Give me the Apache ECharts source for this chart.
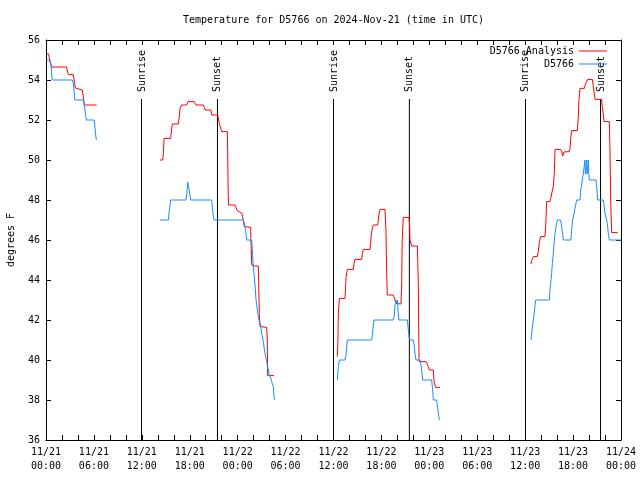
<!DOCTYPE html>
<html><head><meta charset="utf-8">
<script src="https://cdn.jsdelivr.net/npm/echarts@6/dist/echarts.min.js"></script>
<style>html,body{margin:0;padding:0;background:#fff}#c{width:640px;height:480px}</style>
</head><body><div id="c"></div>
<script>
// hours since 2024-11-21 00:00 UTC, temperature in degrees F
const xTickLabels = ['11/21\n00:00','11/21\n06:00','11/21\n12:00','11/21\n18:00','11/22\n00:00','11/22\n06:00','11/22\n12:00','11/22\n18:00','11/23\n00:00','11/23\n06:00','11/23\n12:00','11/23\n18:00','11/24\n00:00'];
const sunriseHours = [11.96, 36.0, 60.04];
const sunsetHours = [21.47, 45.5, 69.44];

const analysis1 = [[0.05,55.3],[0.33,55.3],[0.33,55.2],[0.45,55.2],[0.5,54.9],[0.71,54.65],[2.59,54.65],[2.7,54.4],[2.8,54.27],[3.42,54.27],[3.5,54.35],[3.62,54.2],[3.67,53.6],[3.76,53.5],[4.55,53.5],[4.62,53.3],[4.67,53.15],[4.8,52.75],[6.34,52.75]];
const analysis2 = [[14.27,50.0],[14.61,50.0],[14.7,50.33],[14.78,51.08],[15.61,51.08],[15.73,51.5],[15.82,51.8],[16.57,51.8],[16.7,52.17],[16.78,52.58],[16.99,52.75],[17.62,52.75],[17.78,52.92],[18.57,52.92],[18.78,52.75],[19.7,52.75],[19.82,52.63],[19.9,52.5],[20.66,52.5],[20.75,52.25],[21.5,52.25],[21.58,52.17],[21.7,51.83],[21.9,51.83],[22.0,51.42],[22.7,51.42],[22.75,50.47],[22.8,48.67],[22.85,47.75],[23.67,47.75],[23.79,47.63],[23.96,47.47],[24.17,47.37],[24.54,47.33],[24.62,47.17],[24.83,46.67],[24.92,46.63],[25.63,46.63],[25.65,46.08],[25.72,46.08],[25.76,44.75],[25.88,44.75],[26.09,44.7],[26.59,44.7],[26.63,43.92],[26.71,42.33],[26.8,41.67],[27.63,41.63],[27.71,41.0],[27.76,39.22],[28.55,39.22]];
const analysis3 = [[36.48,40.17],[36.55,40.92],[36.61,42.33],[36.73,43.08],[37.44,43.08],[37.5,43.5],[37.57,44.13],[37.73,44.53],[38.48,44.53],[38.57,44.83],[38.69,45.03],[39.53,45.03],[39.61,45.33],[39.74,45.53],[40.57,45.53],[40.65,45.83],[40.74,46.33],[40.86,46.58],[40.99,46.75],[41.53,46.75],[41.61,46.97],[41.7,47.33],[41.82,47.53],[42.45,47.53],[42.57,46.42],[42.66,44.33],[42.74,43.25],[43.49,43.25],[43.58,43.17],[43.7,43.0],[43.83,42.83],[44.04,42.8],[44.45,42.8],[44.54,43.83],[44.6,46.0],[44.74,47.13],[45.45,47.13],[45.53,46.75],[45.58,46.0],[45.79,45.7],[46.5,45.7],[46.62,43.83],[46.71,39.92],[47.58,39.92],[47.66,39.83],[47.87,39.67],[48.0,39.5],[48.5,39.5],[48.59,38.92],[48.79,38.63],[49.34,38.63]];
const analysis4 = [[60.73,44.8],[60.81,44.97],[61.02,45.17],[61.52,45.17],[61.65,45.42],[61.78,45.92],[61.94,46.17],[62.48,46.17],[62.57,46.67],[62.69,47.92],[63.11,47.92],[63.19,48.08],[63.4,48.08],[63.53,48.7],[63.65,49.33],[63.74,50.53],[64.45,50.53],[64.57,50.42],[64.7,50.2],[64.86,50.4],[64.99,50.42],[65.53,50.42],[65.62,50.58],[65.7,51.08],[65.82,51.47],[66.53,51.47],[66.66,52.17],[66.74,53.03],[66.87,53.58],[67.41,53.58],[67.49,53.67],[67.58,53.83],[67.83,54.03],[68.41,54.03],[68.54,53.67],[68.75,53.03],[69.58,53.03],[69.66,52.67],[69.79,52.25],[69.87,51.92],[70.54,51.92],[70.62,50.5],[70.71,48.0],[70.83,46.37],[71.58,46.37]];

const obs1 = [[0.05,55],[0.5,55],[0.63,54.8],[0.71,54.3],[0.79,54],[3.3,54],[3.42,53.8],[3.55,53.3],[3.6,53],[4.67,53],[4.8,52.75],[4.93,52.33],[5.05,52],[6.05,52],[6.18,51.4],[6.3,51]];
const obs2 = [[14.27,47],[15.32,47],[15.45,47.53],[15.55,47.8],[15.61,48],[17.53,48],[17.65,48.35],[17.74,48.9],[17.82,49],[17.9,48.9],[17.99,48.35],[18.12,48],[20.75,48],[20.9,47.33],[21.04,47],[24.71,47],[24.85,46.83],[24.96,46.58],[25.05,46.33],[25.13,46],[25.76,46],[25.96,44.7],[26.17,43.75],[26.3,43.0],[26.59,42.17],[26.71,41.92],[26.88,41.75],[27.0,41.33],[27.21,40.92],[27.42,40.33],[27.63,39.92],[27.84,39.83],[27.96,39.25],[28.13,39.1],[28.25,38.92],[28.46,38.67],[28.59,38.0]];
const obs3 = [[36.48,39.0],[36.61,39.67],[36.73,40.0],[37.44,40.0],[37.57,40.25],[37.65,40.67],[37.73,41.0],[40.78,41.0],[40.86,41.25],[40.99,41.75],[41.07,42.0],[43.49,42.0],[43.62,42.25],[43.7,42.75],[43.83,43.0],[43.91,42.8],[44.0,43.0],[44.12,42.25],[44.2,42.0],[45.25,42.0],[45.37,41.5],[45.5,41.0],[46.0,41.0],[46.12,40.67],[46.21,40.3],[46.33,40.0],[46.83,40.0],[46.92,39.83],[47.04,39.5],[47.17,39.0],[48.29,39.0],[48.42,38.5],[48.5,38.0],[48.92,38.0],[49.0,37.75],[49.13,37.33],[49.25,37.0]];
const obs4 = [[60.73,41.0],[60.81,41.33],[60.94,41.75],[61.11,42.25],[61.23,42.75],[61.32,43.0],[63.03,43.0],[63.11,43.5],[63.19,43.83],[63.32,44.33],[63.4,44.83],[63.53,45.33],[63.61,45.83],[63.74,46.33],[63.86,46.67],[64.03,47.0],[64.45,47.0],[64.57,46.67],[64.78,46.0],[65.74,46.0],[65.82,46.5],[65.95,47.0],[66.12,47.33],[66.24,47.58],[66.45,48.0],[66.87,48.0],[66.95,48.5],[67.08,48.75],[67.2,49.17],[67.28,49.3],[67.41,49.75],[67.49,50.0],[67.54,49.3],[67.66,49.3],[67.7,50.0],[67.75,49.3],[67.87,49.3],[67.91,50.0],[67.96,49.3],[68.04,49.0],[68.87,49.0],[68.95,48.67],[69.08,48.0],[69.79,48.0],[69.87,47.75],[69.99,47.33],[70.2,47.0],[70.29,46.83],[70.41,46.33],[70.54,46.0],[72,46.0]];

const FONT = 'DejaVu Sans Mono';
const RED = '#ff0000', BLUE = '#1a8cff';
const Y_MIN = 36, Y_MAX = 56, SUN_TOP = 53.05, SUN_LABEL = 53.4;

function lineSeries(name, data, color) {
  return { type: 'line', name: name, data: data, color: color, symbol: 'none', showSymbol: false,
    lineStyle: { color: color, width: 1 }, animation: false, silent: true, z: 3 };
}
const series = [];
[analysis1, analysis2, analysis3, analysis4].forEach(d => series.push(lineSeries('D5766 Analysis', d, RED)));
[obs1, obs2, obs3, obs4].forEach(d => series.push(lineSeries('D5766', d, BLUE)));
sunriseHours.concat(sunsetHours).forEach(h => series.push({
  type: 'line', name: 'sun', data: [[h, Y_MIN], [h, SUN_TOP]], symbol: 'none', color: '#000',
  lineStyle: { color: '#000', width: 1 }, animation: false, silent: true, z: 2
}));

const tickCommon = { show: true, inside: true, length: 5, lineStyle: { color: '#000', width: 1 } };
const axisLine = { show: true, onZero: false, lineStyle: { color: '#000', width: 1 } };
const txt = { fontFamily: FONT, fontSize: 10, color: '#000' };

const chart = echarts.init(document.getElementById('c'), null, { renderer: 'canvas' });
chart.setOption({
  backgroundColor: '#fff',
  animation: false,
  title: { text: 'Temperature for D5766 on 2024-Nov-21 (time in UTC)', left: 328.5, top: 10, textAlign: 'center',
    textStyle: Object.assign({ fontWeight: 'normal' }, txt) },
  grid: { left: 46, right: 19, top: 40, bottom: 40, containLabel: false, outerBoundsMode: 'none' },
  legend: [
    { data: ['D5766 Analysis'], right: 28, top: 41, align: 'right', icon: 'rect', itemWidth: 28, itemHeight: 1,
      textStyle: txt, selectedMode: false },
    { data: ['D5766'], right: 28, top: 54, align: 'right', icon: 'rect', itemWidth: 28, itemHeight: 1,
      textStyle: txt, selectedMode: false }
  ],
  xAxis: [
    { type: 'value', position: 'bottom', min: 0, max: 72, interval: 2, axisLine: axisLine, axisTick: tickCommon,
      splitLine: { show: false }, axisLabel: Object.assign({ margin: 5, lineHeight: 14, showMinLabel: true, showMaxLabel: true,
        formatter: v => (v % 6 === 0 ? xTickLabels[v / 6] : '') }, txt) },
    { type: 'value', position: 'top', min: 0, max: 72, interval: 2, axisLine: axisLine, axisTick: tickCommon,
      splitLine: { show: false }, axisLabel: { show: false } }
  ],
  yAxis: [
    { type: 'value', position: 'left', min: Y_MIN, max: Y_MAX, interval: 2, axisLine: axisLine, axisTick: tickCommon,
      splitLine: { show: false }, axisLabel: Object.assign({ margin: 6 }, txt),
      name: 'degrees F', nameLocation: 'middle', nameRotate: 90, nameGap: 30, nameTextStyle: txt },
    { type: 'value', position: 'right', min: Y_MIN, max: Y_MAX, interval: 2, axisLine: axisLine, axisTick: tickCommon,
      splitLine: { show: false }, axisLabel: { show: false } }
  ],
  series: series
});

const labels = [];
sunriseHours.forEach(h => labels.push([h, 'Sunrise']));
sunsetHours.forEach(h => labels.push([h, 'Sunset']));
chart.setOption({
  graphic: labels.map(([h, t]) => {
    const p = chart.convertToPixel({ xAxisIndex: 0, yAxisIndex: 0 }, [h, SUN_LABEL]);
    return { type: 'text', x: Math.round(p[0]) + 0.5, y: p[1], rotation: Math.PI / 2, silent: true,
      style: { text: t, align: 'left', verticalAlign: 'middle', font: '10px ' + FONT, fill: '#000' } };
  })
});
</script></body></html>
